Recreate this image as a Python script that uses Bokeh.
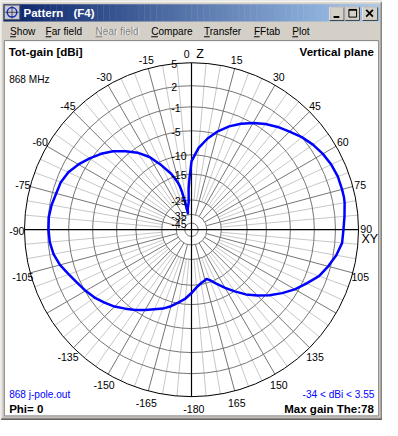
import numpy as np
from bokeh.plotting import figure
from bokeh.models import Range1d
from bokeh.core.properties import value
from bokeh.embed import file_html
from bokeh.resources import INLINE

# ---------------- data ----------------
theta_deg = [-180, -175, -170, -165, -160, -155, -150, -145, -140, -135, -130, -125,
             -120, -115, -110, -105, -100, -95, -90, -85, -80, -75, -70, -65, -60,
             -55, -50, -45, -40, -35, -30, -25, -20, -18, -16, -15, -14, -13, -12,
             -11, -10, -8, -6, -4, -2, -1, 0, 2, 5, 10, 15, 20, 25, 30, 35, 40, 45,
             50, 55, 60, 65, 70, 75, 78, 80, 85, 90, 95, 100, 105, 110, 115, 120,
             125, 130, 135, 140, 145, 150, 155, 160, 163, 165, 170, 175, 180]
gain_dbi = [-13.0, -11.5, -10.3, -9.1, -8.1, -7.3, -6.3, -5.2, -4.3, -3.35, -2.55, -1.75,
            -1.1, -0.55, 0.1, 0.9, 1.45, 1.76, 1.86, 1.9, 1.73, 1.45, 1.3, 0.85, 0.1,
            -0.8, -1.8, -3.0, -4.4, -6.0, -8.1, -11.0, -14.0, -15.6, -17.8, -19.2, -21.5, -25.5, -34.0,
            -32.5, -31.0, -29.0, -26.8, -20.6, -16.0, -14.0, -11.7, -10.4, -8.5, -6.3, -4.5, -3.15, -2.0, -0.95, -0.12, 0.6, 1.25,
            2.0, 2.56, 3.0, 3.33, 3.52, 3.55, 3.55, 3.5, 3.25, 3.04, 2.94, 2.4, 1.65, 0.82, -0.4, -1.6,
            -3.05, -4.5, -6.2, -8.0, -9.9, -12.0, -13.9, -15.8, -16.6, -16.3, -15.5, -14.4, -13.0]

ring_dbi = [5, 2, -1, -5, -10, -15, -25, -35, -45]
ring_labels = ["5", "2", "-1", "-5", "-10", "-15", "-25", "-35", "-45"]
angle_ticks = [0, 15, 30, 45, 60, 75, 90, 105, 135, 150, 165, 180,
               -165, -150, -135, -105, -90, -75, -60, -45, -30, -15]
angle_labels = ["0", "15", "30", "45", "60", "75", "90", "105", "135", "150", "165", "-180",
                "-165", "-150", "-135", "-105", "-90", "-75", "-60", "-45", "-30", "-15"]
menu_items = ["Show", "Far field", "Near field", "Compare", "Transfer", "FFtab", "Plot"]
title_text = "Pattern"
title_key = "(F4)"
freq_text = "868 MHz"
file_text = "868 j-pole.out"
range_text = "-34 < dBi < 3.55"
phi_text = "Phi= 0"
maxgain_text = "Max gain The:78"

# ---------------- layout ----------------
W, H = 382, 420
REF_W = 398.0
S = W / REF_W
SPAN_Y = H / S
Y0 = (436 - SPAN_Y) / 2
CX, CY = 199.0, 238.0
ring_radius_px = [174, 150, 128, 103, 78, 58, 31, 16, 7]
R_OUT = ring_radius_px[0]
GREY = "#D4D0C8"
FONT = value("Liberation Sans")


def fs(px):
    return f"{px * S:.2f}px"


def to_r(db):
    return np.interp(db, ring_dbi[::-1], ring_radius_px[::-1])


def polar(theta, r):
    t = np.radians(np.asarray(theta, dtype=float))
    return CX + r * np.sin(t), CY - r * np.cos(t)


p = figure(width=W, height=H, output_backend="svg", toolbar_location=None,
           x_range=Range1d(0, REF_W), y_range=Range1d(Y0 + SPAN_Y, Y0),
           x_axis_location=None, y_axis_location=None, min_border=0,
           background_fill_color=GREY, border_fill_color=GREY)
p.grid.visible = False
p.outline_line_color = None

# ---- window frame ----
p.segment(x0=[0.5, 0.5], y0=[0.5, 0.5], x1=[397.5, 0.5], y1=[0.5, 435.5], line_color="#ffffff", line_width=1)
p.segment(x0=[397.5, 0.5], y0=[0.5, 435.5], x1=[397.5, 397.5], y1=[435.5, 435.5], line_color="#404040", line_width=1)
p.segment(x0=[396.5, 1.5], y0=[1.5, 434.5], x1=[396.5, 396.5], y1=[434.5, 434.5], line_color="#808080", line_width=1)

# ---- title bar gradient ----
n = 64
xs = np.linspace(3, 395, n + 1)
c0 = np.array([10, 36, 106])
c1 = np.array([166, 202, 240])
cols = ["#%02x%02x%02x" % tuple(int(v) for v in (c0 + (c1 - c0) * (i / (n - 1)))) for i in range(n)]
p.quad(left=xs[:-1], right=xs[1:] + 0.3, top=3, bottom=21, fill_color=cols, line_color=None)

# icon
p.quad(left=4, right=20, top=4, bottom=19, fill_color="#c8c8d8", line_color="#606060")
p.circle(x=12, y=11.5, radius=5, fill_color=None, line_color="#1030c0", line_width=1.5)
p.segment(x0=[12, 5], y0=[5, 11.5], x1=[12, 19], y1=[18, 11.5], line_color="#303030", line_width=0.8)

p.text(x=[24], y=[12.5], text=[title_text], text_font=FONT, text_font_style="bold",
       text_font_size=fs(12), text_color="white", text_baseline="middle", text_align="left")
p.text(x=[76], y=[12.5], text=[title_key], text_font=FONT, text_font_style="bold",
       text_font_size=fs(12), text_color="white", text_baseline="middle", text_align="left")

# caption buttons
bl = [343, 359, 377]
br = [358, 374, 393]
p.quad(left=bl, right=br, top=6, bottom=20, fill_color=GREY, line_color="#404040", line_width=1)
p.segment(x0=bl, y0=[6, 6, 6], x1=br, y1=[6, 6, 6], line_color="white", line_width=1)
p.segment(x0=bl, y0=[6, 6, 6], x1=bl, y1=[20, 20, 20], line_color="white", line_width=1)
p.segment(x0=[347], y0=[16.5], x1=[353], y1=[16.5], line_color="black", line_width=2)
p.quad(left=363, right=371, top=8.5, bottom=16.5, fill_color=None, line_color="black", line_width=1)
p.segment(x0=[363], y0=[9], x1=[371], y1=[9], line_color="black", line_width=1.5)
p.segment(x0=[381, 381], y0=[9, 16], x1=[388, 388], y1=[16, 9], line_color="black", line_width=1.8)

# ---- menu bar ----
menu_x = [10, 47, 99, 157, 212, 264, 304]
menu_w = [6, 6, 7, 7, 6, 6, 6]
for i, (mx, label) in enumerate(zip(menu_x, menu_items)):
    if label == "Near field":
        p.text(x=[mx + 1], y=[32], text=[label], text_font=FONT, text_font_size=fs(10.5),
               text_color="white", text_baseline="middle", text_align="left")
        color = "#808080"
    else:
        color = "black"
    p.text(x=[mx], y=[31], text=[label], text_font=FONT, text_font_size=fs(10.5),
           text_color=color, text_baseline="middle", text_align="left")
    p.segment(x0=[mx], y0=[37], x1=[mx + menu_w[i]], y1=[37], line_color=color, line_width=1)

# ---- client area ----
p.quad(left=4, right=394, top=41, bottom=432, fill_color="white", line_color="#808080", line_width=1)

# radial grid lines
light = [a for a in range(0, 360, 5) if a % 15 != 0]
dark = [a for a in range(0, 360, 15) if a % 90 != 0]
lx0, ly0 = polar(light, ring_radius_px[6])
lx1, ly1 = polar(light, R_OUT)
p.segment(x0=lx0, y0=ly0, x1=lx1, y1=ly1, line_color="#c8c8c8", line_width=1)
dx0, dy0 = polar(dark, ring_radius_px[7])
dx1, dy1 = polar(dark, R_OUT)
p.segment(x0=dx0, y0=dy0, x1=dx1, y1=dy1, line_color="#767676", line_width=1)

# rings
p.circle(x=[CX] * (len(ring_radius_px) - 1), y=[CY] * (len(ring_radius_px) - 1),
         radius=ring_radius_px[1:], fill_color=None, line_color="#767676", line_width=1)
p.circle(x=[CX], y=[CY], radius=[R_OUT], fill_color=None, line_color="black", line_width=1)

# main axes
p.segment(x0=[CX - R_OUT, CX], y0=[CY, CY - R_OUT], x1=[CX + R_OUT, CX], y1=[CY, CY + R_OUT],
          line_color="black", line_width=1.2)

# pattern
px_, py_ = polar(theta_deg, to_r(np.array(gain_dbi)))
p.line(x=px_, y=py_, line_color="#0000ff", line_width=2.6 * S, line_join="round")

# ring labels
ry = [CY - r + 1.5 for r in ring_radius_px]
p.text(x=[178] * len(ring_labels), y=ry, text=ring_labels, text_font=FONT, text_font_size=fs(11),
       text_color="black", text_baseline="middle", text_align="left")

# angle labels
ax_, ay_ = [], []
for a in angle_ticks:
    t = np.radians(a)
    x = CX + 182 * np.sin(t)
    y = CY - 185 * np.cos(t) + 1.5
    if a == 0:
        x -= 5
    if a == 180:
        x += 2.5
    if a == 90:
        y -= 2
    ax_.append(x)
    ay_.append(y)
p.text(x=ax_, y=ay_, text=angle_labels, text_font=FONT, text_font_size=fs(11),
       text_color="black", text_baseline="middle", text_align="center")
p.text(x=[204, 376], y=[55, 247.5], text=["Z", "XY"], text_font=FONT, text_font_size=fs(13),
       text_color="black", text_baseline="middle", text_align="left")

# corner texts
p.text(x=[8.5], y=[53], text=["Tot-gain [dBi]"], text_font=FONT, text_font_style="bold",
       text_font_size=fs(12), text_baseline="middle", text_align="left", text_color="black")
p.text(x=[389], y=[53], text=["Vertical plane"], text_font=FONT, text_font_style="bold",
       text_font_size=fs(12), text_baseline="middle", text_align="right", text_color="black")
p.text(x=[9], y=[81.5], text=[freq_text], text_font=FONT, text_font_size=fs(10.5),
       text_baseline="middle", text_align="left", text_color="black")
p.text(x=[9], y=[410], text=[file_text], text_font=FONT, text_font_size=fs(10.5),
       text_baseline="middle", text_align="left", text_color="#0000ff")
p.text(x=[389.5], y=[410], text=[range_text], text_font=FONT, text_font_size=fs(10.5),
       text_baseline="middle", text_align="right", text_color="#0000ff")
p.text(x=[9], y=[425], text=[phi_text], text_font=FONT, text_font_style="bold",
       text_font_size=fs(12), text_baseline="middle", text_align="left", text_color="black")
p.text(x=[389], y=[425], text=[maxgain_text], text_font=FONT, text_font_style="bold",
       text_font_size=fs(12), text_baseline="middle", text_align="right", text_color="black")

open("out.html", "w").write(file_html(p, INLINE))
